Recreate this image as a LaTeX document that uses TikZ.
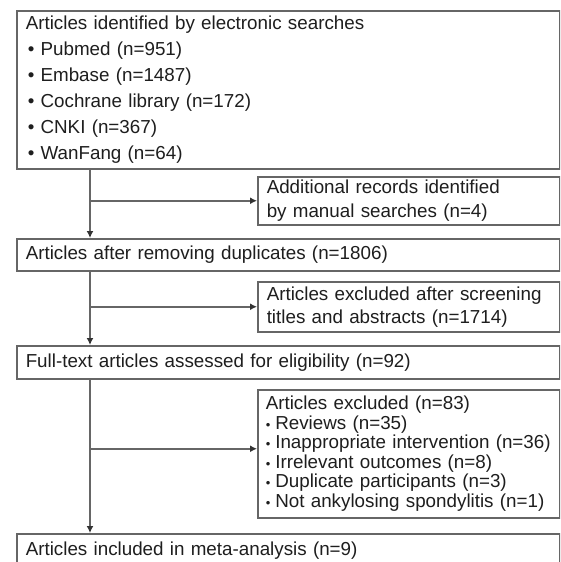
\documentclass[tikz,border=0pt]{standalone}
\usepackage{fontspec}
\setmainfont{Liberation Sans}
\usetikzlibrary{arrows.meta}

\definecolor{linegray}{HTML}{666666}
\definecolor{textgray}{HTML}{1E1E1E}

\tikzset{
  box/.style={draw=linegray, line width=1.5pt, anchor=north west,
    inner xsep=9pt, inner ysep=0pt, align=left, text=textgray,
    font=\fontsize{18.8}{26}\selectfont},
  mainbox/.style={box, text width=525pt},
  sidebox/.style={box, text width=284pt},
  flow/.style={draw=linegray, line width=1.6pt,
    -{Latex[length=7pt,width=7pt,color=black!80]}}
}

\newcommand{\smallbul}{{\fontsize{13}{13}\selectfont\textbullet}\hspace{5pt}}

\begin{document}
\begin{tikzpicture}[x=1pt,y=-1pt]
  \clip (0,0) rectangle (560,562);
  \fill[white] (0,0) rectangle (560,562);

  % main column
  \node[mainbox, minimum height=158pt] (search) at (16,10)
    {Articles identified by electronic searches\\
     \hspace{2pt}\textbullet\ Pubmed (n=951)\\
     \hspace{2pt}\textbullet\ Embase (n=1487)\\
     \hspace{2pt}\textbullet\ Cochrane library (n=172)\\
     \hspace{2pt}\textbullet\ CNKI (n=367)\\
     \hspace{2pt}\textbullet\ WanFang (n=64)};
  \node[mainbox, minimum height=32pt] (dedup) at (16,238)
    {Articles after removing duplicates (n=1806)};
  \node[mainbox, minimum height=33pt] (fulltext) at (16,345)
    {Full-text articles assessed for eligibility (n=92)};
  \node[mainbox, minimum height=34pt] (included) at (16,533)
    {Articles included in meta-analysis (n=9)};

  % side boxes
  \node[sidebox, minimum height=48pt, font=\fontsize{18.8}{24}\selectfont] (manual) at (257,176)
    {Additional records identified\\by manual searches (n=4)};
  \node[sidebox, minimum height=50pt, font=\fontsize{18.8}{23}\selectfont] (screened) at (257,281)
    {Articles excluded after screening\\titles and abstracts (n=1714)};
  \node[box, text width=286pt, inner xsep=8pt, minimum height=128pt,
        font=\fontsize{18.8}{19.5}\selectfont] (excluded) at (257,389)
    {Articles excluded (n=83)\\
     \smallbul Reviews (n=35)\\
     \smallbul Inappropriate intervention (n=36)\\
     \smallbul Irrelevant outcomes (n=8)\\
     \smallbul Duplicate participants (n=3)\\
     \smallbul Not ankylosing spondylitis (n=1)};

  % trunk line
  \coordinate (trunk) at (90,0);

  \draw[flow] (search.south -| trunk) -- (dedup.north -| trunk);
  \draw[flow] (manual.west -| trunk) -- (manual.west);
  \draw[flow] (dedup.south -| trunk) -- (fulltext.north -| trunk);
  \draw[flow] (screened.west -| trunk) -- (screened.west);
  \draw[flow] (fulltext.south -| trunk) -- (included.north -| trunk);
  \draw[flow] ([yshift=5pt]excluded.west -| trunk) -- ([yshift=5pt]excluded.west);
\end{tikzpicture}
\end{document}
